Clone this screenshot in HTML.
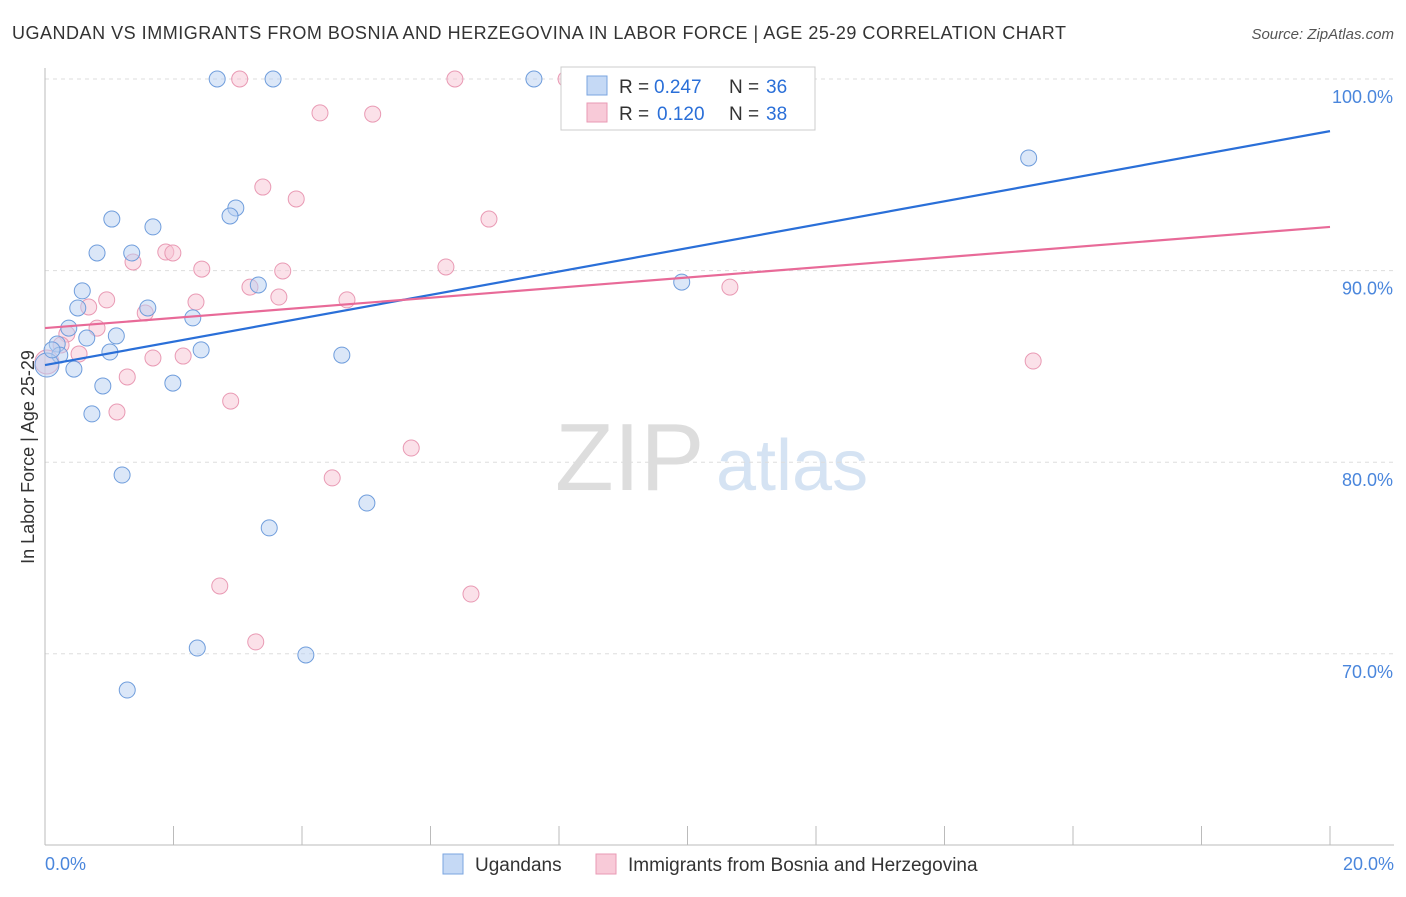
<!DOCTYPE html>
<html><head><meta charset="utf-8">
<style>
body{margin:0;background:#fff;font-family:"Liberation Sans",sans-serif;}
svg text{font-family:"Liberation Sans",sans-serif;}
</style></head>
<body>
<svg id="chart" width="1406" height="892" xmlns="http://www.w3.org/2000/svg">
<text x="12" y="39" font-size="18" fill="#333" textLength="1054" lengthAdjust="spacing">UGANDAN VS IMMIGRANTS FROM BOSNIA AND HERZEGOVINA IN LABOR FORCE | AGE 25-29 CORRELATION CHART</text>
<text x="1394" y="39" font-size="15" fill="#555" text-anchor="end" font-style="italic">Source: ZipAtlas.com</text>
<g>
<text x="555" y="490" font-size="96" fill="#ddd" font-family="Liberation Serif,serif">ZIP</text>
<text x="716" y="490" font-size="72" fill="#d5e3f3">atlas</text>
</g>
<g id="grid"></g>
<g id="axes"></g>
<g id="points"></g>
<g id="trends"></g>
<g>
<rect x="561" y="67" width="254" height="63" fill="#fff" stroke="#ccc"/>
<rect x="587" y="76" width="20" height="19" fill="#c5d9f5" stroke="#7aa5e0"/>
<text x="619" y="93" font-size="19" fill="#333">R =</text>
<text x="654" y="93" font-size="19" fill="#2a6fd8">0.247</text>
<text x="729" y="93" font-size="19" fill="#333">N =</text>
<text x="766" y="93" font-size="19" fill="#2a6fd8">36</text>
<rect x="587" y="103" width="20" height="19" fill="#f8cad8" stroke="#e99ab4"/>
<text x="619" y="120" font-size="19" fill="#333">R =</text>
<text x="657" y="120" font-size="19" fill="#2a6fd8">0.120</text>
<text x="729" y="120" font-size="19" fill="#333">N =</text>
<text x="766" y="120" font-size="19" fill="#2a6fd8">38</text>
</g>
<g>
<rect x="443" y="854" width="20" height="20" fill="#c5d9f5" stroke="#7aa5e0"/>
<text x="475" y="871" font-size="19" fill="#333">Ugandans</text>
<rect x="596" y="854" width="20" height="20" fill="#f8cad8" stroke="#e99ab4"/>
<text x="628" y="871" font-size="19" fill="#333">Immigrants from Bosnia and Herzegovina</text>
</g>
<text transform="translate(34,457) rotate(-90)" font-size="18" fill="#333" text-anchor="middle">In Labor Force | Age 25-29</text>
</svg>
<script>
const blueX=[2.68,3.55,7.61,15.31,1.04,2.97,2.88,1.68,0.81,1.35,3.32,0.58,0.51,1.60,2.30,0.37,1.11,0.65,0.19,1.01,2.43,4.62,0.23,0.03,0.45,0.90,1.99,0.73,1.20,5.01,3.49,2.37,4.06,1.28,9.91,0.11];
const blueY=[100,100,100,95.88,92.69,93.27,92.85,92.28,90.92,90.92,89.25,88.94,88.05,88.05,87.53,87.0,86.59,86.48,86.17,85.75,85.86,85.59,85.59,85.07,84.86,83.98,84.13,82.52,79.33,77.87,76.57,70.3,69.94,68.11,89.4,85.86];
const pinkX=[3.03,6.38,8.11,4.28,5.10,3.39,3.91,6.91,1.88,1.99,1.37,2.44,3.70,6.24,3.19,0.96,2.35,3.64,4.70,0.68,1.56,10.66,0.81,0.34,0.25,0.53,1.68,2.15,15.38,0.03,1.28,1.12,2.89,5.70,4.47,2.72,6.63,3.28];
const pinkY=[100,100,100,98.23,98.17,94.36,93.74,92.69,90.97,90.92,90.45,90.08,89.98,90.19,89.14,88.47,88.36,88.62,88.47,88.1,87.79,89.14,87.0,86.69,86.12,85.65,85.44,85.54,85.28,85.23,84.45,82.62,83.19,80.74,79.18,73.54,73.12,70.62];
const trendStart=[85.07,87.0];
const trendEnd=[97.28,92.28];
const yTicks=[100,90,80,70];
const xTicks=[0,2,4,6,8,10,12,14,16,18,20];
const NS="http://www.w3.org/2000/svg";
const sx=v=>45+v*1285/20;
const sy=v=>79+(100-v)*19.16;
function mk(tag,attrs,parent){const e=document.createElementNS(NS,tag);for(const k in attrs)e.setAttribute(k,attrs[k]);parent.appendChild(e);return e;}
const grid=document.getElementById('grid'),axes=document.getElementById('axes'),pts=document.getElementById('points'),tr=document.getElementById('trends');
yTicks.forEach(t=>{
 const l=mk('line',{x1:45,x2:1394,y1:sy(t),y2:sy(t),stroke:'#ddd','stroke-dasharray':'4,4'},grid);
 
 
 const tx=mk('text',{x:1393,y:sy(t)+24,'font-size':18,fill:'#4a86dc','text-anchor':'end'},axes);
 tx.textContent=t.toFixed(1)+'%';
 
 
});
const ax=mk('line',{x1:45,x2:45,y1:68,y2:845,stroke:'#bbb'},axes);


const bx=mk('line',{x1:45,x2:1394,y1:845,y2:845,stroke:'#bbb'},axes);


xTicks.forEach(t=>{
 const l=mk('line',{x1:sx(t),x2:sx(t),y1:826,y2:845,stroke:'#bbb'},axes);
 
 
});
[[0,'0.0%','start',45],[20,'20.0%','end',1394]].forEach(d=>{
 const tx=mk('text',{x:d[3],y:870,'font-size':18,fill:'#4a86dc','text-anchor':d[2]},axes);
 tx.textContent=d[1];
 
 
});
function draw(X,Y,fill,stroke,name){
 X.forEach((x,i)=>{
  const r=(x<0.1)?12:8;
  const c=mk('circle',{cx:sx(x),cy:sy(Y[i]),r:r,fill:fill,'fill-opacity':0.5,stroke:stroke,'stroke-width':1},pts);
  
  
 });
}
draw(pinkX,pinkY,'#f8c4d4','#e99ab4','point-bosnia');
draw(blueX,blueY,'#b8d0f2','#6f9ddc','point-ugandan');
const cols=['#2a6fd8','#e86a98'],names=['trend-ugandans','trend-bosnia'];
trendStart.forEach((s,i)=>{
 const l=mk('line',{x1:sx(0),y1:sy(s),x2:sx(20),y2:sy(trendEnd[i]),stroke:cols[i],'stroke-width':2.2},tr);
 
 
});
</script>
</body></html>
